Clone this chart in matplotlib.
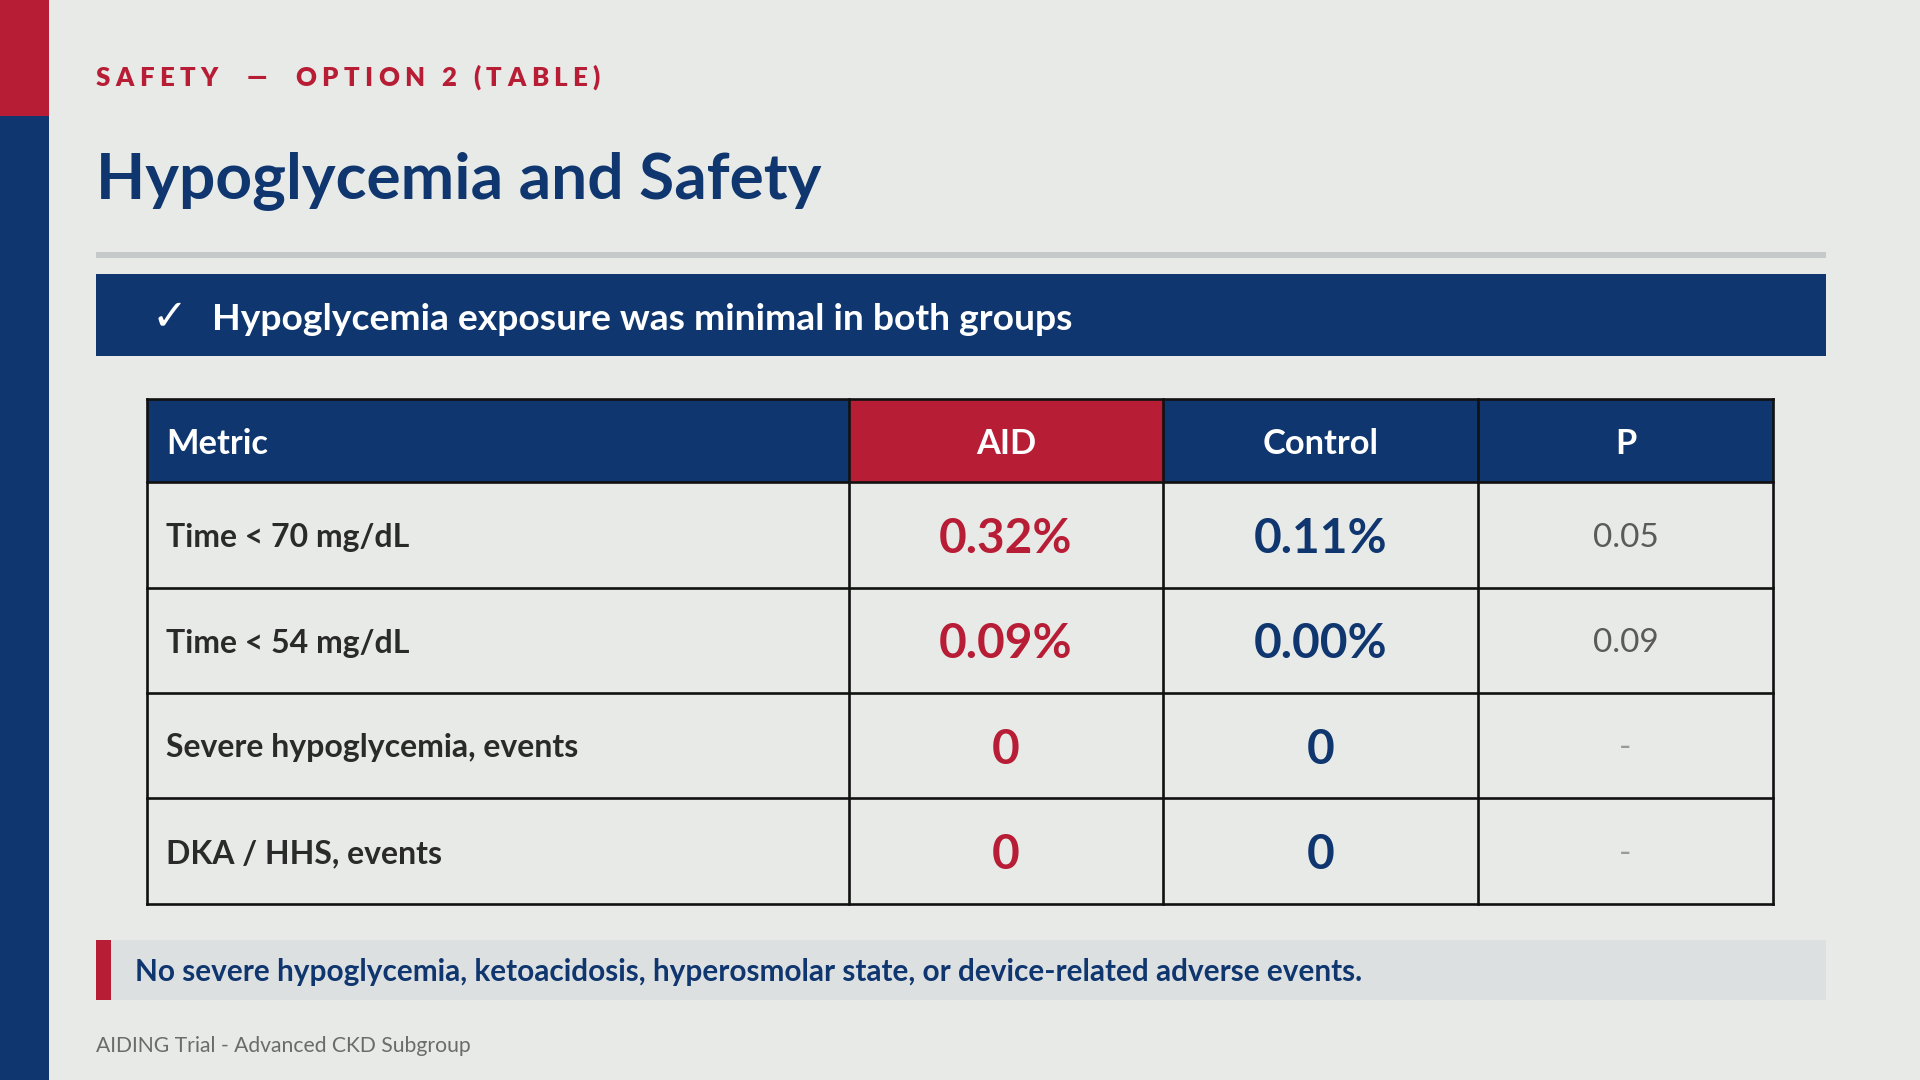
import matplotlib
matplotlib.use("Agg")
import matplotlib.pyplot as plt
from matplotlib.patches import Rectangle

# ---- content ----
kicker = "SAFETY  —  OPTION 2 (TABLE)"
title = "Hypoglycemia and Safety"
banner = "Hypoglycemia exposure was minimal in both groups"
columns = ["Metric", "AID", "Control", "P"]
metrics = ["Time < 70 mg/dL", "Time < 54 mg/dL",
           "Severe hypoglycemia, events", "DKA / HHS, events"]
aid_values = ["0.32%", "0.09%", "0", "0"]
control_values = ["0.11%", "0.00%", "0", "0"]
p_values = ["0.05", "0.09", "-", "-"]
note = "No severe hypoglycemia, ketoacidosis, hyperosmolar state, or device-related adverse events."
footer = "AIDING Trial - Advanced CKD Subgroup"

# ---- style ----
BG = "#E8EAE7"
NAVY = "#0F366F"
RED = "#B81D36"
RULE = "#C6C9CA"
NOTEBG = "#DDE0E0"
DARK = "#2A2A2A"
PGRAY = "#5A5A5A"
DASH = "#9A9A9A"
FONT = ["Lato", "DejaVu Sans"]
plt.rcParams["font.family"] = FONT

W, H = 1920, 1080
fig = plt.figure(figsize=(19.2, 10.8), dpi=100)
fig.patch.set_facecolor(BG)
ax = fig.add_axes([0, 0, 1, 1])
ax.set_xlim(0, W)
ax.set_ylim(H, 0)
ax.axis("off")
ax.set_facecolor(BG)
r = fig.canvas.get_renderer()


def width_of(txt, size, **kw):
    t = ax.text(0, 0, txt, fontsize=size, **kw)
    w = t.get_window_extent(r).width
    t.remove()
    return w


def fit(txt, target_w, **kw):
    return 20 * target_w / width_of(txt, 20, **kw)


# left accent bar
ax.add_patch(Rectangle((0, 0), 49, 116, color=RED, lw=0))
ax.add_patch(Rectangle((0, 116), 49, H - 116, color=NAVY, lw=0))

# kicker with letter spacing
ks = 18.5
base = width_of("I", ks, fontweight="heavy")
adv = []
for i in range(len(kicker)):
    adv.append(width_of(kicker[: i + 1] + "I", ks, fontweight="heavy") - base)
natural = adv[-1]
target = 600 - 95.5
track = (target - natural) / (len(kicker) - 1)
for i, ch in enumerate(kicker):
    start = (adv[i - 1] if i > 0 else 0) + i * track
    if ch != " ":
        ax.text(95.5 + start, 86, ch, fontsize=ks, fontweight="heavy",
                color=RED, va="baseline", ha="left")

# title
ts = fit(title, 725, fontweight="bold")
ax.text(95.5, 198, title, fontsize=ts, fontweight="bold", color=NAVY,
        va="baseline", ha="left")

# rule
ax.add_patch(Rectangle((95.5, 252), 1826 - 95.5, 6, color=RULE, lw=0))

# banner
ax.add_patch(Rectangle((95.5, 274), 1826 - 95.5, 82, color=NAVY, lw=0))
ax.text(170, 317, "✓", fontsize=31, color="white", va="center", ha="center",
        family=["DejaVu Sans"])
bs = fit(banner, 861, fontweight="bold")
ax.text(212, 330, banner, fontsize=bs, fontweight="bold", color="white",
        va="baseline", ha="left")

# table
col_x = [147, 849, 1163, 1478, 1773]
row_y = [399, 482, 588, 693, 798, 904]
header_bg = [NAVY, RED, NAVY, NAVY]
for j in range(4):
    ax.add_patch(Rectangle((col_x[j], row_y[0]), col_x[j + 1] - col_x[j],
                           row_y[1] - row_y[0], color=header_bg[j], lw=0))

hs = fit("Metric", 102, fontweight="bold")
for j, c in enumerate(columns):
    yc = (row_y[0] + row_y[1]) / 2
    if j == 0:
        ax.text(166, yc, c, fontsize=hs, fontweight="bold", color="white",
                va="center_baseline", ha="left")
    else:
        ax.text((col_x[j] + col_x[j + 1]) / 2, yc, c, fontsize=hs,
                fontweight="bold", color="white", va="center_baseline", ha="center")

ls = fit(metrics[0], 244, fontweight="bold")
vs = fit(aid_values[0], 134, fontweight="bold")
ps = fit(p_values[0], 66)
for i in range(len(metrics)):
    yc = (row_y[i + 1] + row_y[i + 2]) / 2
    ax.text(166, yc, metrics[i], fontsize=ls, fontweight="bold", color=DARK,
            va="center_baseline", ha="left")
    ax.text((col_x[1] + col_x[2]) / 2, yc, aid_values[i], fontsize=vs,
            fontweight="bold", color=RED, va="center_baseline", ha="center")
    ax.text((col_x[2] + col_x[3]) / 2, yc, control_values[i], fontsize=vs,
            fontweight="bold", color=NAVY, va="center_baseline", ha="center")
    is_dash = p_values[i] == "-"
    ax.text((col_x[3] + col_x[4]) / 2, yc, p_values[i], fontsize=ps,
            color=DASH if is_dash else PGRAY, va="center_baseline", ha="center")

lw = 1.9
for y in row_y:
    ax.plot([col_x[0], col_x[-1]], [y, y], color="#111111", lw=lw,
            solid_capstyle="projecting")
for x in col_x:
    ax.plot([x, x], [row_y[0], row_y[-1]], color="#111111", lw=lw,
            solid_capstyle="projecting")

# note box
ax.add_patch(Rectangle((95.5, 940), 1826 - 95.5, 60, color=NOTEBG, lw=0))
ax.add_patch(Rectangle((95.5, 940), 15, 60, color=RED, lw=0))
ns = fit(note, 1228, fontweight="bold")
ax.text(135, 970, note, fontsize=ns, fontweight="bold", color=NAVY,
        va="center_baseline", ha="left")

# footer
fs = fit(footer, 377)
ax.text(95.5, 1052, footer, fontsize=fs, color="#6B6B6B", va="baseline", ha="left")

fig.savefig("out.png", dpi=100, facecolor=BG)
